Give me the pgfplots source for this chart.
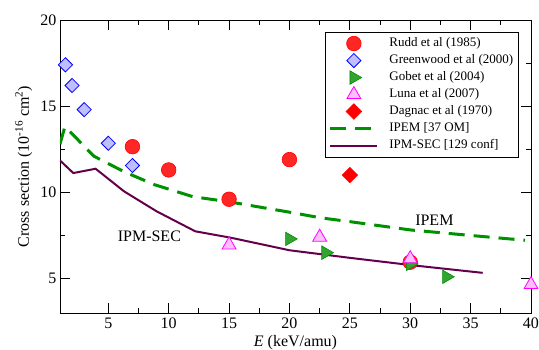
\documentclass[border=0pt]{standalone}
\usepackage{pgfplots}
\pgfplotsset{compat=1.18}
\usepackage{fontspec}
\setmainfont{Liberation Serif}
\definecolor{rudd}{RGB}{255,0,0}
\definecolor{gw}{RGB}{0,0,255}
\definecolor{gob}{RGB}{0,140,0}
\definecolor{luna}{RGB}{255,0,255}
\definecolor{ipem}{RGB}{0,145,0}
\definecolor{ipm}{RGB}{100,0,75}
\begin{document}
\begin{tikzpicture}
\begin{axis}[
  scale only axis, width=471pt, height=293pt,
  xmin=1, xmax=40, ymin=3, ymax=20,
  xtick={5,10,...,40}, ytick={5,10,15,20},
  minor x tick num=1, minor y tick num=1,
  tick align=inside,
  major tick length=10pt, minor tick length=5pt,
  axis line style={line width=0.8pt},
  every tick/.style={line width=0.8pt, black},
  /pgf/number format/assume math mode=true,
  ticklabel style={font=\fontsize{16}{18}\selectfont},
  xticklabel style={yshift=-1pt},
  xlabel={\textit{E} (keV/amu)},
  ylabel={Cross section (10\textsuperscript{-16} cm\textsuperscript{2})},
  label style={font=\fontsize{16}{18}\selectfont},
  xlabel style={at={(axis description cs:0.5,0)}, anchor=base, yshift=-33pt},
  ylabel style={at={(axis description cs:0,0.5)}, anchor=base, yshift=31pt},
  legend style={at={(1,1)}, anchor=north east, xshift=-12pt, yshift=-12pt,
    font=\fontsize{13}{15}\selectfont, draw=black, line width=0.6pt,
    row sep=0.5pt, inner xsep=4pt, inner ysep=3pt,
    nodes={inner sep=1.5pt, text height=10pt, text depth=3.5pt},
    /tikz/every odd column/.append style={column sep=9pt}},
  legend cell align=left,
  legend image code/.code={\draw[mark repeat=2,mark phase=2] plot coordinates {(0pt,0pt) (23.5pt,0pt) (47pt,0pt)};},
]
\addplot[only marks, mark=*, mark size=7.3pt, draw=rudd, fill=rudd!85, line width=0.6pt]
  coordinates {(7,12.65) (10,11.3) (15,9.6) (20,11.9) (30,5.95)};
\addlegendentry{Rudd et al (1985)}
\addplot[only marks, mark=square*, mark size=5pt, mark options={rotate=45}, draw=gw, fill=gw!25, line width=0.8pt]
  coordinates {(1.45,17.4) (2,16.2) (3,14.8) (5,12.85) (7,11.56)};
\addlegendentry{Greenwood et al (2000)}
\addplot[only marks, mark=triangle*, mark size=7.8pt, mark options={rotate=-90}, draw=gob, fill=gob!80, line width=0.6pt]
  coordinates {(20,7.3) (23,6.5) (30,5.85) (33,5.1)};
\addlegendentry{Gobet et al (2004)}
\addplot[only marks, mark=triangle*, mark size=8pt, draw=luna, fill=luna!25, line width=0.8pt]
  coordinates {(15,6.95) (22.5,7.4) (30,6.15) (40,4.65)};
\addlegendentry{Luna et al (2007)}
\addplot[only marks, mark=square*, mark size=5.5pt, mark options={rotate=45}, draw=rudd, fill=rudd]
  coordinates {(25,11.0)};
\addlegendentry{Dagnac et al (1970)}
\addplot[ipem, line width=3pt, dash pattern=on 16pt off 9pt, no marks]
  coordinates {(1,12.8) (1.4,13.8) (2,13.4) (3.8,12.1) (6.3,11.2) (8.8,10.45) (12,9.75) (15,9.45) (20,8.85) (22.6,8.52) (25,8.3) (30,7.82) (35,7.5) (39.5,7.22)};
\addlegendentry{IPEM [37 OM]}
\addplot[ipm, line width=2pt, no marks]
  coordinates {(1,11.85) (2.1,11.12) (3.95,11.37) (6.3,10.06) (9,8.9) (12.2,7.74) (15.2,7.36) (20,6.64) (25,6.2) (30.3,5.76) (36,5.33)};
\addlegendentry{IPM-SEC [129 conf]}
\node[font=\fontsize{16}{18}\selectfont] at (axis cs:8.4,7.45) {IPM-SEC};
\node[font=\fontsize{16}{18}\selectfont] at (axis cs:32,8.38) {IPEM};
\end{axis}
\pgfresetboundingbox
\useasboundingbox (current axis.south west) ++(-60pt,-36pt) rectangle ++(539pt,349pt);
\end{tikzpicture}
\end{document}
